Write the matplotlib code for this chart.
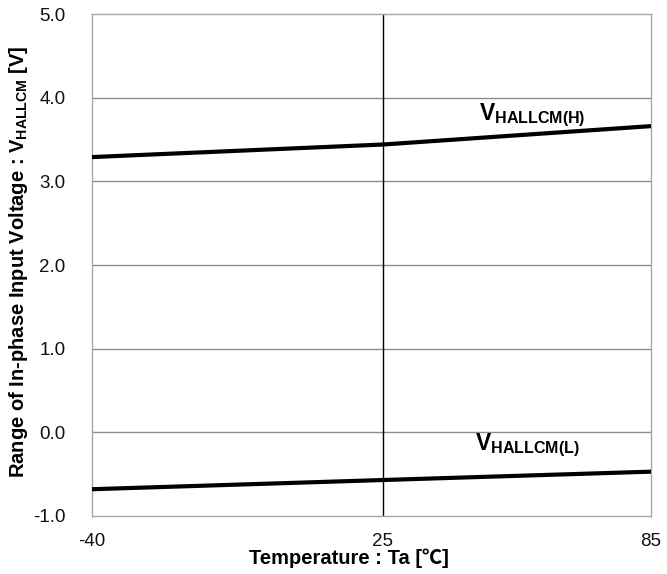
import numpy as np
import matplotlib
matplotlib.use("Agg")
import matplotlib.pyplot as plt

plt.rcParams['font.family'] = ['Liberation Sans', 'Noto Sans CJK JP', 'DejaVu Sans']
plt.rcParams['mathtext.fontset'] = 'custom'
plt.rcParams['mathtext.rm'] = 'Liberation Sans:bold'
plt.rcParams['mathtext.bf'] = 'Liberation Sans:bold'

# data
temp = [-40, 25, 85]
v_high = [3.29, 3.44, 3.66]
v_low = [-0.68, -0.57, -0.47]

x_ticks = [-40, 25, 85]
y_ticks = [-1.0, 0.0, 1.0, 2.0, 3.0, 4.0, 5.0]

fig = plt.figure(figsize=(6.67, 5.74), dpi=100)
ax = fig.add_axes([92 / 667, 1 - 516 / 574, 559 / 667, 502 / 574])

ax.plot(temp, v_high, color="black", lw=3, solid_capstyle="butt", zorder=3)
ax.plot(temp, v_low, color="black", lw=3, solid_capstyle="butt", zorder=3)

ax.set_xlim(-40, 85)
ax.set_ylim(-1.0, 5.0)
ax.set_xticks(x_ticks)
ax.set_xticklabels([str(t) for t in x_ticks])
ax.set_yticks(y_ticks)
ax.set_yticklabels([f"{v:.1f}" for v in y_ticks])
ax.tick_params(length=0, labelsize=13.5, colors="#111111")
ax.tick_params(axis="x", pad=12)
ax.tick_params(axis="y", pad=19)

for v in y_ticks[1:-1]:
    ax.axhline(v, color="#8c8c8c", lw=1, zorder=1)
ax.axvline(25, color="black", lw=1, zorder=2)
for s in ax.spines.values():
    s.set_color("#a6a6a6")
    s.set_linewidth(1)

ax.text(58.5, 3.79, r"$\mathrm{V}_{\mathrm{HALLCM(H)}}$", fontsize=16.5, ha="center",
        va="center")
ax.text(57.3, -0.16, r"$\mathrm{V}_{\mathrm{HALLCM(L)}}$", fontsize=16.5, ha="center",
        va="center")

fig.text(349 / 667, 1 - 558 / 574, "Temperature : Ta [℃]", fontsize=14.5,
         fontweight="bold", ha="center", va="center")
fig.text(19 / 667, 1 - 262 / 574,
         r"Range of In-phase Input Voltage : $\mathrm{V}_{\mathrm{HALLCM}}$ [V]",
         fontsize=14.5, fontweight="bold", rotation=90, ha="center", va="center")

fig.savefig("out.png", dpi=100)
